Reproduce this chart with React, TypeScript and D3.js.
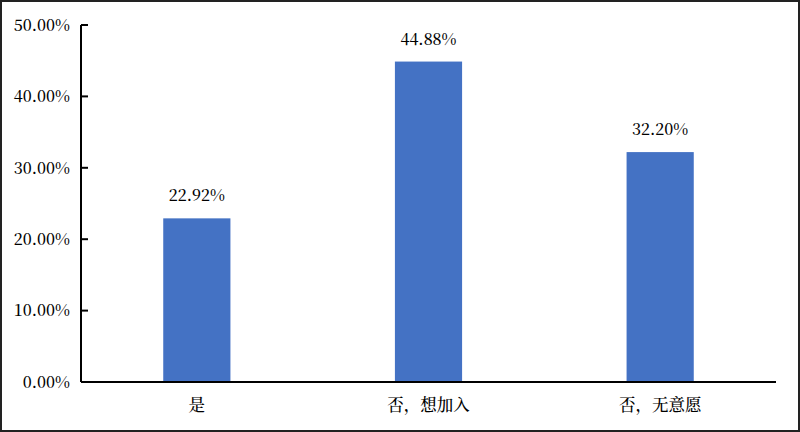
import React from 'react';
import * as d3 from 'd3';

const categories = ['是', '否，想加入', '否，无意愿'];
const values = [22.92, 44.88, 32.2];
const yTicks = [0, 10, 20, 30, 40, 50];

const width = 800;
const height = 432;
const margin = { left: 81, right: 24, top: 25, bottom: 50 };

export default function App() {
  const x = d3.scaleBand<string>()
    .domain(categories)
    .range([margin.left, width - margin.right])
    .padding(0);
  const y = d3.scaleLinear()
    .domain([0, 50])
    .range([height - margin.bottom, margin.top]);

  const barW = x.bandwidth() * 0.29;
  const font = "'Noto Serif CJK SC', 'Noto Sans CJK SC', serif";

  return (
    <svg
      width={width}
      height={height}
      style={{ position: 'absolute', left: 0, top: 0, background: '#fff' }}
    >
      <rect x={1} y={1} width={width - 2} height={height - 2} fill="#fff" stroke="#222" strokeWidth={2} />

      {values.map((v, i) => {
        const cx = x(categories[i])! + x.bandwidth() / 2;
        return (
          <g key={categories[i]}>
            <rect x={cx - barW / 2} y={y(v)} width={barW} height={y(0) - y(v)} fill="#4472C4" />
            <text
              x={cx}
              y={y(v) - 17}
              textAnchor="middle"
              style={{ fontFamily: font, fontSize: 16, fontWeight: 500 }}
              fill="#000"
            >
              {v.toFixed(2)}%
            </text>
            <text
              x={cx}
              y={y(0) + 29}
              textAnchor="middle"
              style={{ fontFamily: font, fontSize: 16.5, fontWeight: 500 }}
              fill="#000"
            >
              {categories[i]}
            </text>
          </g>
        );
      })}

      {/* y axis */}
      <line x1={margin.left} x2={margin.left} y1={y(50)} y2={y(0)} stroke="#000" strokeWidth={2} />
      {yTicks.map(t => (
        <g key={t}>
          <line x1={margin.left} x2={margin.left + 7} y1={y(t)} y2={y(t)} stroke="#000" strokeWidth={2} />
          <text
            x={70}
            y={y(t)}
            dy="0.36em"
            textAnchor="end"
            style={{ fontFamily: font, fontSize: 16, fontWeight: 500 }}
            fill="#000"
          >
            {t.toFixed(2)}%
          </text>
        </g>
      ))}

      {/* x axis */}
      <line x1={margin.left} x2={width - margin.right} y1={y(0)} y2={y(0)} stroke="#000" strokeWidth={2} />
    </svg>
  );
}
